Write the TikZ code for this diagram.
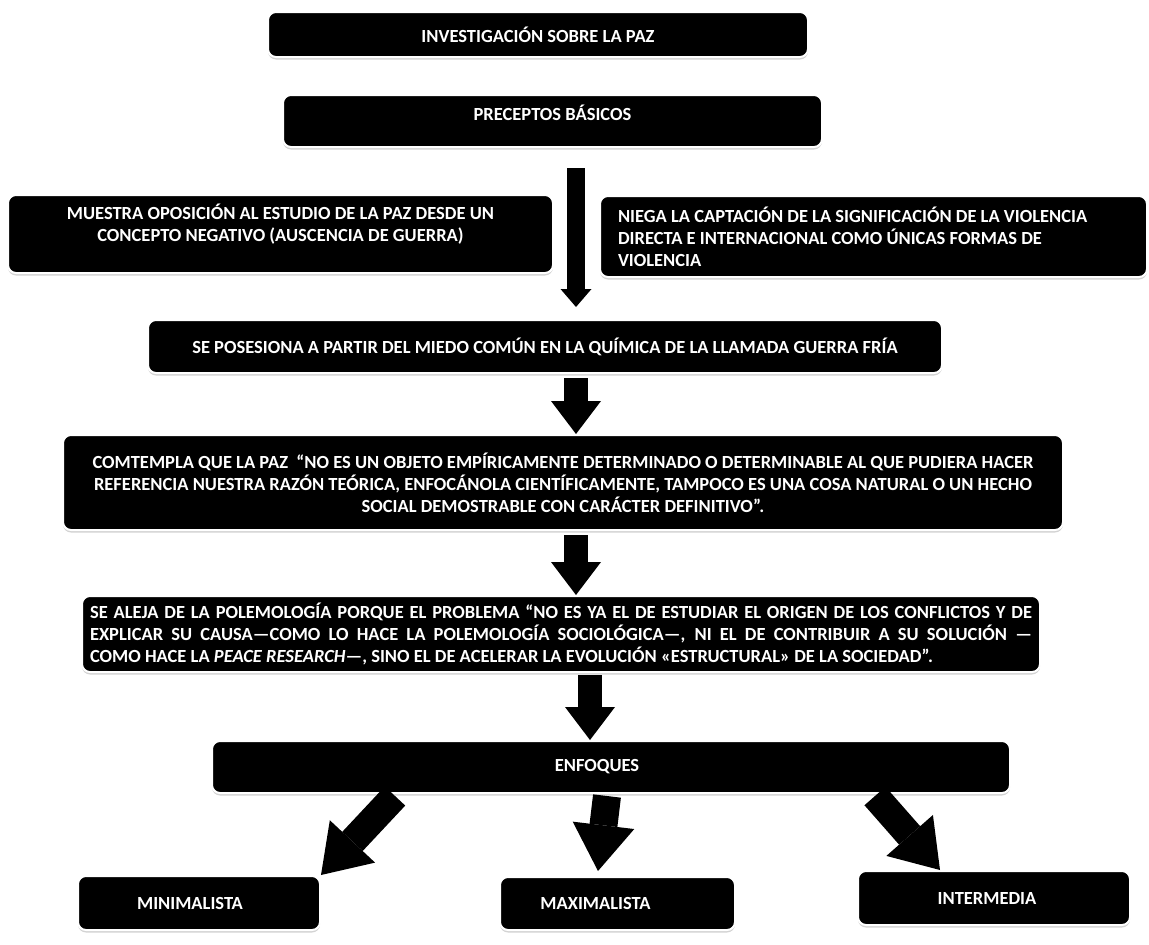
\documentclass[tikz,border=0pt]{standalone}
\usepackage{fontspec}
\setmainfont{Carlito}
\usetikzlibrary{arrows.meta,shadows}

\tikzset{
  caja/.style={fill=black, draw=white, line width=2pt, rounded corners=8pt,
    text=white, font=\bfseries\fontsize{18.5}{22}\selectfont, align=center,
    inner sep=0pt, drop shadow={shadow xshift=0pt, shadow yshift=-2.5pt, opacity=0.35}},
  flechafina/.style={draw=black, line width=18pt, -{Triangle[length=18pt,width=31pt,line width=0pt]}},
  flecha/.style={draw=black, line width=24pt, -{Triangle[length=33pt,width=50pt,line width=0pt]}},
  flechagrande/.style={draw=black, line width=28pt, -{Triangle[length=46pt,width=62pt,line width=0pt]}},
}

\begin{document}
\begin{tikzpicture}[x=1pt,y=-1pt]
\useasboundingbox (0,0) rectangle (1149,945);
%
\node[caja, minimum width=540pt, minimum height=45pt] (inv) at (538,34.5) {INVESTIGACIÓN SOBRE LA PAZ};
\node[caja, minimum width=539pt, minimum height=52pt] (prec) at (552.5,121) {PRECEPTOS BÁSICOS\\[-6pt]};
\node[caja, minimum width=545pt, minimum height=78pt] (oposicion) at (280.5,234)
  {MUESTRA OPOSICIÓN AL ESTUDIO DE LA PAZ DESDE UN\\CONCEPTO NEGATIVO (AUSCENCIA DE GUERRA)\\ };
\node[caja, minimum width=547pt, minimum height=81pt, text width=511pt, align=flush left] (niega) at (873.5,236.5)
  {NIEGA LA CAPTACIÓN DE LA SIGNIFICACIÓN DE LA VIOLENCIA\\DIRECTA E INTERNACIONAL COMO ÚNICAS FORMAS DE\\VIOLENCIA};
\node[caja, minimum width=794pt, minimum height=53pt] (posesiona) at (545,346.5)
  {SE POSESIONA A PARTIR DEL MIEDO COMÚN EN LA QUÍMICA DE LA LLAMADA GUERRA FRÍA};
\node[caja, minimum width=1000pt, minimum height=95pt] (contempla) at (563,482.5)
  {COMTEMPLA QUE LA PAZ~ “NO ES UN OBJETO EMPÍRICAMENTE DETERMINADO O DETERMINABLE AL QUE PUDIERA HACER\\
   REFERENCIA NUESTRA RAZÓN TEÓRICA, ENFOCÁNOLA CIENTÍFICAMENTE, TAMPOCO ES UNA COSA NATURAL O UN HECHO\\
   SOCIAL DEMOSTRABLE CON CARÁCTER DEFINITIVO”.};
\node[caja, minimum width=958pt, minimum height=76pt, text width=942pt, align=justify] (aleja) at (561,634)
  {SE ALEJA DE LA POLEMOLOGÍA PORQUE EL PROBLEMA “NO ES YA EL DE ESTUDIAR EL ORIGEN DE LOS CONFLICTOS Y DE\linebreak
   EXPLICAR SU CAUSA—COMO LO HACE LA POLEMOLOGÍA SOCIOLÓGICA—, NI EL DE CONTRIBUIR A SU SOLUCIÓN —\linebreak
   COMO HACE LA \textit{PEACE RESEARCH}—, SINO EL DE ACELERAR LA EVOLUCIÓN «ESTRUCTURAL» DE LA SOCIEDAD”.};
\node[caja, minimum width=798pt, minimum height=52pt] (enfoques) at (611,767) {ENFOQUES\hspace*{28pt}};
\node[caja, minimum width=242pt, minimum height=54pt] (mini) at (199,903) {MINIMALISTA\hspace*{18pt}};
\node[caja, minimum width=235pt, minimum height=53pt] (maxi) at (617.5,903.5) {MAXIMALISTA\hspace*{44pt}};
\node[caja, minimum width=272pt, minimum height=54pt] (inter) at (994,898) {INTERMEDIA\hspace*{14pt}};
%
\draw[flechafina] ([xshift=23.5pt,yshift=-20pt]prec.south) -- ([xshift=31pt,yshift=12pt]posesiona.north);
\draw[flecha] ([xshift=31pt,yshift=-4pt]posesiona.south) -- ([xshift=13pt]contempla.north);
\draw[flecha] ([xshift=13pt,yshift=-4pt]contempla.south) -- ([xshift=15pt]aleja.north);
\draw[flecha] ([xshift=29pt,yshift=-2pt]aleja.south) -- ([xshift=-21pt]enfoques.north);
\draw[flechagrande] ([xshift=-216pt,yshift=-2pt]enfoques.south) -- (mini.north east);
\draw[flechagrande] ([xshift=-4pt,yshift=-2pt]enfoques.south) -- ([xshift=-19.5pt,yshift=5pt]maxi.north);
\draw[flechagrande] ([xshift=264pt,yshift=-2pt]enfoques.south) -- ([xshift=-54pt]inter.north);
\end{tikzpicture}
\end{document}
